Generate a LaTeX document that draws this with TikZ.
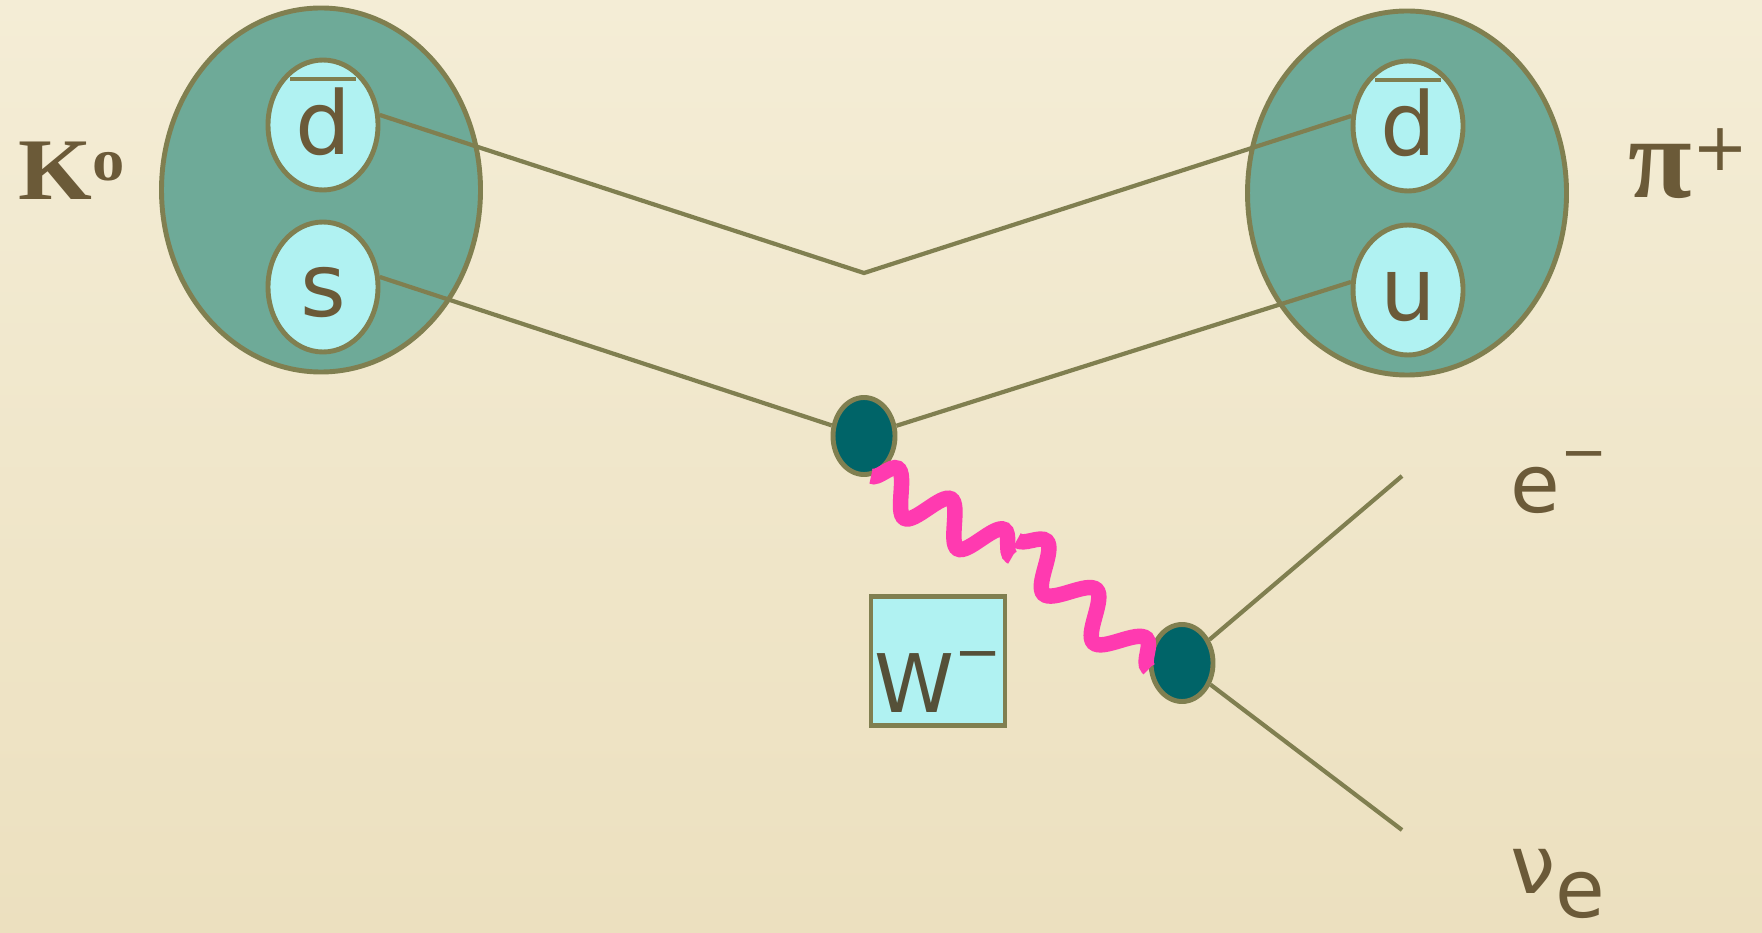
\documentclass[tikz,border=0pt]{standalone}
\usepackage{fontspec}
\newfontfamily\quarkfont{DejaVu Sans}
\newfontfamily\mesonfont{Liberation Serif}
\newfontfamily\kaonfont[FakeStretch=1.08]{Liberation Serif}
\usetikzlibrary{shapes.geometric,decorations.pathmorphing}
\definecolor{paperhi}{HTML}{F4EDD6}
\definecolor{paperlo}{HTML}{ECE0BF}
\definecolor{mesonteal}{HTML}{6EAA98}
\definecolor{quarkcyan}{HTML}{B0F2F2}
\definecolor{vertexteal}{HTML}{006468}
\definecolor{olive}{HTML}{807F50}
\definecolor{inkbrown}{HTML}{6B5A38}
\definecolor{wink}{HTML}{555038}
\definecolor{wpink}{HTML}{FF3AB0}
\newcommand{\qbar}[1]{\makebox[0pt][l]{\hspace{-0.06em}\raisebox{0.84em}{\color{olive}\rule{0.75em}{1.2pt}}}#1}
\newcommand{\supminus}{\raisebox{0.41cm}{\fontsize{16}{16}\selectfont −}}
\begin{document}
\begin{tikzpicture}[
   meson/.style={ellipse,draw=olive,line width=1.4pt,fill=mesonteal,minimum width=3.19cm,minimum height=3.64cm,inner sep=0pt},
   quark/.style={ellipse,draw=olive,line width=1.4pt,fill=quarkcyan,minimum width=1.10cm,minimum height=1.30cm,inner sep=0pt,text height=0.6cm,text depth=0cm,text=inkbrown,font=\quarkfont\fontsize{25}{25}\selectfont},
   vertex/.style={ellipse,draw=olive,line width=1.4pt,fill=vertexteal,minimum width=0.62cm,minimum height=0.77cm,inner sep=0pt},
   leg/.style={olive,line width=1.2pt},
   wboson/.style={wpink,line width=4.4pt,decorate,decoration={snake,segment length=#1,amplitude=0.2cm}},
   tag/.style={inner sep=0pt,anchor=base west,text=inkbrown}]
   \shade [top color=paperhi,bottom color=paperlo] (0,0) rectangle (17.62,-9.33);
   \useasboundingbox (0,0) rectangle (17.62,-9.33);
   \node [meson] (kaon) at (3.21,-1.90) {};
   \node [quark] (kd) at (3.23,-1.25) {\qbar{d}};
   \node [quark] (ks) at (3.23,-2.87) {s};
   \node [meson] (pion) at (14.07,-1.93) {};
   \node [quark] (pd) at (14.08,-1.26) {\qbar{d}};
   \node [quark] (pu) at (14.08,-2.90) {u};
   \coordinate (vtop) at (8.64,-2.73);
   \node [vertex] (vx1) at (8.64,-4.36) {};
   \node [vertex] (vx2) at (11.82,-6.63) {};
   \coordinate (eend) at (14.02,-4.76);
   \coordinate (nuend) at (14.02,-8.30);
   \coordinate (wgapa) at (10.12,-5.57);
   \coordinate (wgapb) at (10.17,-5.40);
   \draw [leg] (kd.10) -- (vtop) -- (pd.170);
   \draw [leg] (ks.10) -- (vx1) -- (pu.172);
   \draw [leg] (vx2) -- (eend);
   \draw [leg] (vx2) -- (nuend);
   \draw [wboson=0.615cm] (vx1.-80) -- (wgapa);
   \draw [wboson=0.698cm] (wgapb) -- (vx2.190);
   \node [draw=olive,line width=1.4pt,fill=quarkcyan,minimum width=1.34cm,minimum height=1.29cm,inner sep=0pt,text height=1.16cm,text depth=0.13cm,text=wink,font=\quarkfont\fontsize{23}{23}\selectfont] (wname) at (9.38,-6.61) {W\supminus};
   \node [tag,font=\kaonfont\bfseries\fontsize{25}{25}\selectfont] (kname) at (0.18,-2.00) {K\raisebox{0.19cm}{\fontsize{17}{17}\selectfont o}};
   \node [tag,font=\mesonfont\bfseries\fontsize{33}{33}\selectfont] (piname) at (16.28,-1.98) {π\raisebox{0.27cm}{\quarkfont\mdseries\fontsize{19}{19}\selectfont +}};
   \node [tag,font=\quarkfont\fontsize{23}{23}\selectfont] (ename) at (15.10,-5.12) {e\supminus};
   \node [tag,font=\quarkfont\fontsize{23}{23}\selectfont] (nuname) at (15.10,-8.93) {ν\raisebox{-0.24cm}{e}};
  \end{tikzpicture}
\end{document}
